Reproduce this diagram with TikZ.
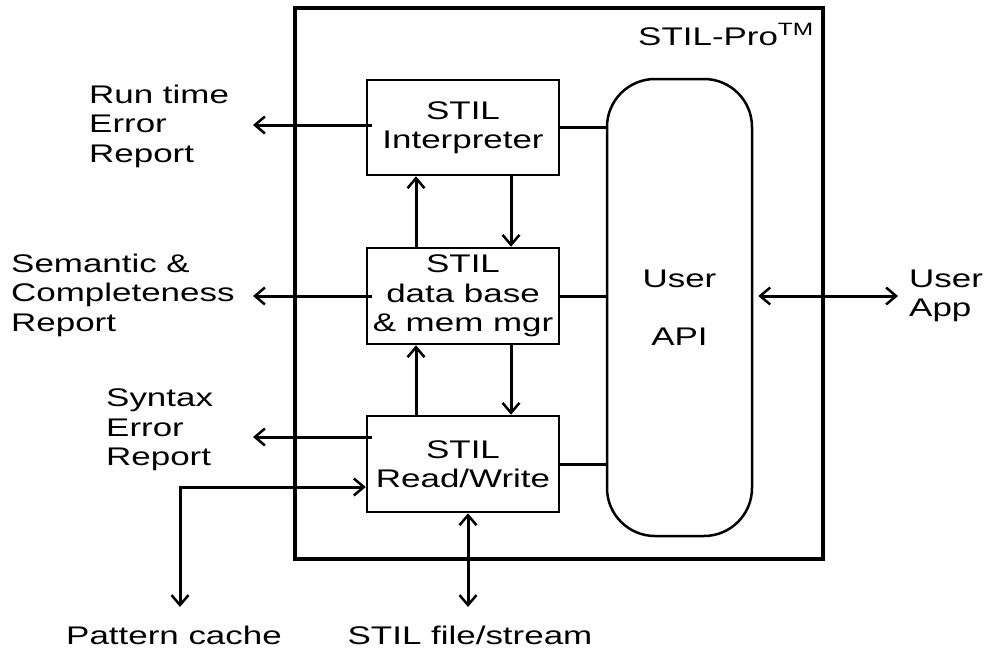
\documentclass[tikz,border=0pt]{standalone}
\usepackage{fontspec}
\setmainfont{Liberation Sans}[FakeStretch=1.37]
\usepackage{tikz}
\usetikzlibrary{arrows.meta, positioning}

\begin{document}
\begin{tikzpicture}[x=1pt, y=-1pt,
    every node/.style={font=\fontsize{25.5}{29.5}\selectfont},
    box/.style={draw, line width=2.5pt, minimum width=192pt, minimum height=96pt, align=center, inner sep=0pt},
    lbl/.style={align=left, anchor=west, inner sep=0pt},
    link/.style={line width=3pt},
    arr/.style={line width=3pt, -{Straight Barb[length=10pt,width=17pt,line width=2.5pt]}},
    dblarr/.style={line width=3pt, {Straight Barb[length=10pt,width=17pt,line width=2.5pt]}-{Straight Barb[length=10pt,width=17pt,line width=2.5pt]}}]
    \useasboundingbox (0,0) rectangle (985,648);

    % Outer frame
    \node[draw, line width=3.5pt, minimum width=528pt, minimum height=551pt, inner sep=0pt] (pro) at (559,283.5) {};
    \node[anchor=base east, inner sep=0pt] (title) at (814,45) {STIL-Pro\textsuperscript{TM}};

    % Blocks
    \node[box, minimum height=95pt] (interp) at (463,127.5) {STIL\\Interpreter};
    \node[box] (db) at (463,296) {STIL\\data base\\\& mem mgr};
    \node[box] (rw) at (463,464) {STIL\\Read/Write};
    \node[draw, line width=2.5pt, rounded corners=48pt, minimum width=145pt, minimum height=457pt, align=center] (api) at (679.5,307.5) {User\\[29pt]API};

    % Outside labels
    \node[lbl] (runtime) at (89,126) {Run time\\Error\\Report};
    \node[lbl] (semantic) at (11,295) {Semantic \&\\Completeness\\Report};
    \node[lbl] (syntax) at (106,430) {Syntax\\Error\\Report};
    \node[lbl] (userapp) at (909,296) {User\\App};
    \node[anchor=base, inner sep=0pt] (cache) at (174,644) {Pattern cache};
    \node[anchor=base, inner sep=0pt] (file) at (470,644) {STIL file/stream};

    \coordinate (rttip) at (253,125);
    \coordinate (semtip) at (253,296);
    \coordinate (syntip) at (253,437);
    \coordinate (cachetip) at (180,607);
    \coordinate (filetip) at (468,607);
    \coordinate (apptip) at (898,296);

    % Reports
    \draw[arr] ([xshift=6pt,yshift=2.5pt]interp.west) -- (rttip);
    \draw[arr] ([xshift=6pt]db.west) -- (semtip);
    \draw[arr] ([xshift=6pt,yshift=27pt]rw.west) -- (syntip);

    % Between blocks
    \draw[arr] ([xshift=-47pt]db.north) -- ([xshift=-47pt]interp.south);
    \draw[arr] ([xshift=48pt]interp.south) -- ([xshift=48pt]db.north);
    \draw[arr] ([xshift=-47pt]rw.north) -- ([xshift=-47pt]db.south);
    \draw[arr] ([xshift=48pt]db.south) -- ([xshift=48pt]rw.north);

    % To the API
    \draw[link] (interp.east) -- (interp.east -| api.west);
    \draw[link] (db.east) -- (db.east -| api.west);
    \draw[link] (rw.east) -- (rw.east -| api.west);

    % Streams
    \draw[dblarr] (cachetip) |- ([yshift=-23pt]rw.west);
    \draw[dblarr] ([xshift=5pt]rw.south) -- (filetip);
    \draw[dblarr, shorten <=5pt] (api.east |- db.east) -- (apptip);
\end{tikzpicture}
\end{document}
